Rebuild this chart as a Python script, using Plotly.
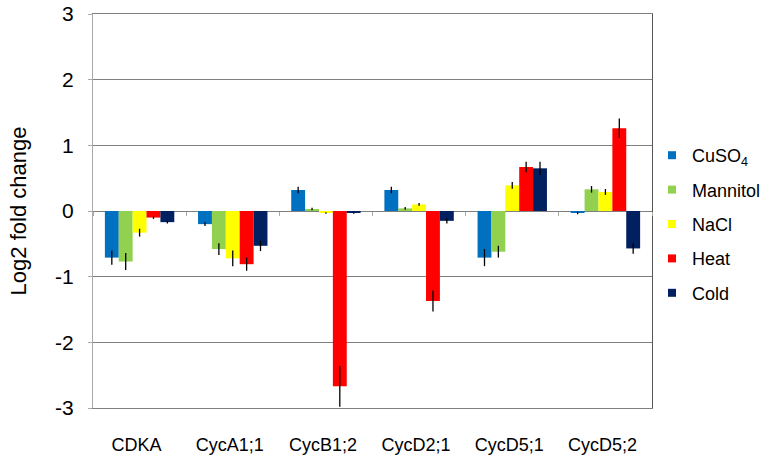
import plotly.graph_objects as go

categories = ["CDKA", "CycA1;1", "CycB1;2", "CycD2;1", "CycD5;1", "CycD5;2"]
series_names = ["CuSO<sub>4</sub>", "Mannitol", "NaCl", "Heat", "Cold"]
cuso4 = [-0.71, -0.20, 0.32, 0.32, -0.71, -0.03]
mannitol = [-0.77, -0.58, 0.03, 0.04, -0.62, 0.33]
nacl = [-0.33, -0.72, -0.03, 0.10, 0.39, 0.29]
heat = [-0.10, -0.81, -2.67, -1.37, 0.67, 1.26]
cold = [-0.17, -0.53, -0.03, -0.15, 0.65, -0.57]
err_cuso4 = [0.11, 0.03, 0.05, 0.05, 0.13, 0.02]
err_mannitol = [0.13, 0.09, 0.02, 0.02, 0.09, 0.05]
err_nacl = [0.06, 0.12, 0.01, 0.02, 0.05, 0.045]
err_heat = [0.02, 0.10, 0.31, 0.16, 0.08, 0.15]
err_cold = [0.02, 0.08, 0.01, 0.04, 0.10, 0.08]
colors = ["#0070C0", "#92D050", "#FFFF00", "#FF0000", "#002060"]
y_ticks = [-3, -2, -1, 0, 1, 2, 3]
y_ticktext = ["-3", "-2", "-1", "0", "1", "2", "3"]

values = [cuso4, mannitol, nacl, heat, cold]
errors = [err_cuso4, err_mannitol, err_nacl, err_heat, err_cold]
xpos = list(range(len(categories)))

fig = go.Figure()
for i, (name, vals, errs, col) in enumerate(zip(series_names, values, errors, colors)):
    fig.add_trace(go.Bar(
        x=xpos, y=vals, name=name, marker_color=col, marker_line_width=0,
        showlegend=False,
        error_y=dict(type="data", array=errs, color="#000000", thickness=1.3, width=0),
    ))
# legend entries with small square symbols
for i, (name, col) in enumerate(zip(series_names, colors)):
    fig.add_trace(go.Scatter(
        x=[None], y=[None], mode="markers", name=name, legendgroup=f"g{i}",
        marker=dict(symbol="square", size=8, color=col),
    ))

font_family = "Liberation Sans, Arial, sans-serif"
fig.update_layout(
    width=778, height=459,
    margin=dict(l=93, r=121, t=14, b=51),
    paper_bgcolor="white", plot_bgcolor="white",
    barmode="group", bargap=0.255, bargroupgap=0,
    font=dict(family=font_family, color="#000000"),
    showlegend=True,
    legend=dict(x=1.0, y=0.467, xanchor="left", yanchor="middle",
                bgcolor="rgba(0,0,0,0)",
                font=dict(size=18), tracegroupgap=8, itemwidth=30),
    xaxis=dict(range=[-0.5, 5.5], tickvals=xpos, ticktext=categories,
               tickfont=dict(size=18), showgrid=False, zeroline=False,
               showline=True, mirror=True, linecolor="#808080", linewidth=1.3,
               ticks="", ticklabelstandoff=20,
               ticklabelshift=-3, automargin=False),
    xaxis2=dict(overlaying="x", matches="x", anchor="free", position=0.5,
                tickvals=[x - 0.5 for x in xpos] + [5.5], showticklabels=False,
                ticks="outside", ticklen=4, tickcolor="#aaaaaa", showgrid=False,
                zeroline=False, showline=False),
    yaxis=dict(range=[-3, 3], tickvals=y_ticks, ticktext=y_ticktext,
               tickfont=dict(size=21),
               showgrid=True, gridcolor="#808080", gridwidth=1.3,
               zeroline=True, zerolinecolor="#808080", zerolinewidth=1.3,
               showline=True, linecolor="#aaaaaa", linewidth=1.3,
               ticks="outside", ticklen=4, tickcolor="#aaaaaa",
               ticklabelstandoff=10, automargin=False,
               title=dict(text="Log2 fold change", font=dict(size=22), standoff=22)),
    yaxis2=dict(overlaying="y", side="right", anchor="x", range=[-3, 3],
                showticklabels=False, showgrid=False, zeroline=False,
                showline=True, linecolor="#555555", linewidth=1.3),
)
fig.add_trace(go.Scatter(x=[None], y=[None], yaxis="y2", xaxis="x2", showlegend=False))

# remove the page's default body margin so the figure sits at the window's corner
fig.write_html("out.html", config={"displayModeBar": False},
               post_script="document.body.style.margin='0';")
